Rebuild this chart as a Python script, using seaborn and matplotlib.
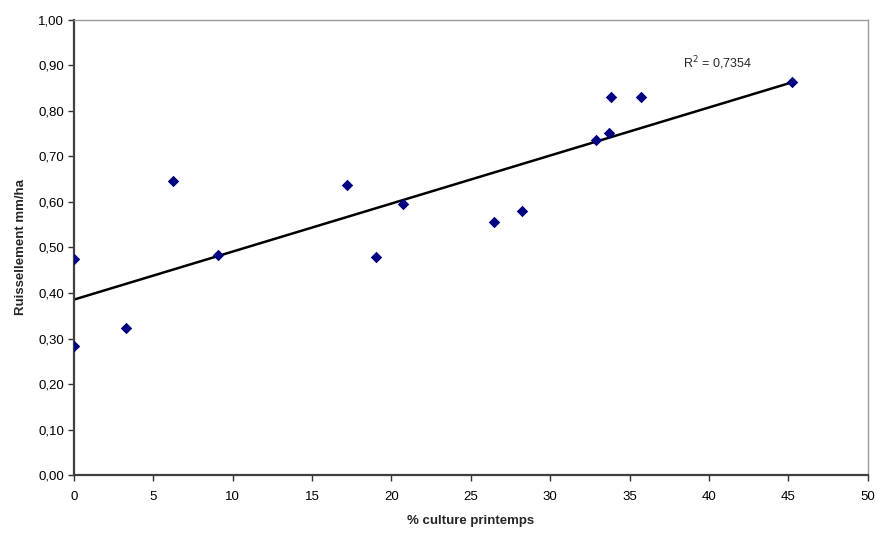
import numpy as np
import pandas as pd
import matplotlib
matplotlib.use("Agg")
import matplotlib.pyplot as plt
from matplotlib.ticker import FuncFormatter, MultipleLocator
import seaborn as sns

# values
culture_printemps = [0.0, 0.0, 3.27, 6.21, 9.09, 17.17, 19.0, 20.70,
                     26.47, 28.21, 32.87, 33.69, 33.84, 35.75, 45.23]
ruissellement = [0.284, 0.474, 0.324, 0.646, 0.483, 0.637, 0.479, 0.595,
                 0.555, 0.581, 0.735, 0.752, 0.831, 0.829, 0.862]
r2_label = "R$^2$ = 0,7354"

df = pd.DataFrame({"x": culture_printemps, "y": ruissellement})

sns.set_theme(style="white")
plt.rcParams["font.family"] = ["Liberation Sans", "DejaVu Sans"]

fig = plt.figure(figsize=(8.8, 5.33), dpi=100)
ax = fig.add_axes([0.0841, 0.108, 0.9019, 0.8554])

sns.regplot(data=df, x="x", y="y", ax=ax, ci=None, marker="D",
            scatter_kws={"s": 34, "color": "#000080", "alpha": 1,
                         "linewidths": 0, "zorder": 3},
            line_kws={"color": "black", "linewidth": 1.8, "zorder": 2})

ax.set_xlim(0, 50)
ax.set_ylim(0, 1.0)
ax.xaxis.set_major_locator(MultipleLocator(5))
ax.yaxis.set_major_locator(MultipleLocator(0.1))
ax.yaxis.set_major_formatter(FuncFormatter(lambda v, p: f"{v:.2f}".replace(".", ",")))

ax.tick_params(axis="both", direction="out", length=4, width=1, color="#333333",
               labelsize=9.5, labelcolor="black", pad=3, bottom=True, left=True)
ax.tick_params(axis="x", pad=7)

for side in ["left", "bottom"]:
    ax.spines[side].set_color("#404040")
    ax.spines[side].set_linewidth(1.6)
for side in ["top", "right"]:
    ax.spines[side].set_color("#999999")
    ax.spines[side].set_linewidth(1.0)

ax.set_xlabel("% culture printemps", fontsize=9.5, fontweight="bold", labelpad=9)
ax.set_ylabel("Ruissellement mm/ha", fontsize=9.5, fontweight="bold", labelpad=8)

ax.text(40.55, 0.905, r2_label, fontsize=9, ha="center", va="center")

fig.savefig("out.png", dpi=100)
